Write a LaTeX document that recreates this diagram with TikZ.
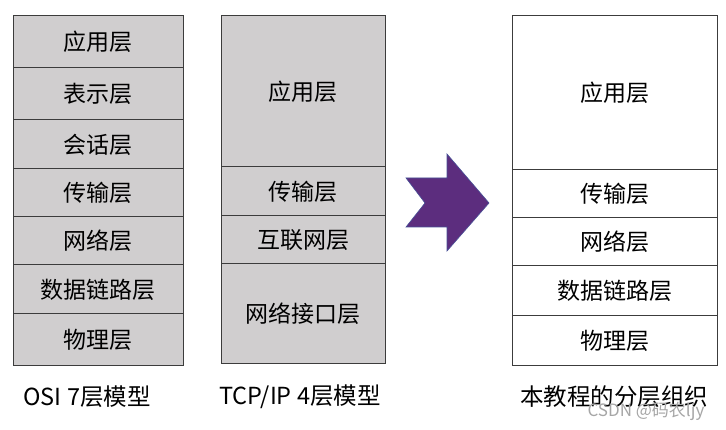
\documentclass[tikz,border=0pt]{standalone}
\usepackage{fontspec}
\setmainfont{Noto Sans CJK SC}
\usetikzlibrary{arrows.meta,calc}
\definecolor{layergray}{RGB}{208,206,207}
\definecolor{arrowpurple}{RGB}{92,45,126}
\definecolor{arrowedge}{RGB}{70,80,150}
\definecolor{boxline}{RGB}{60,60,60}
\tikzset{
    layer/.style={draw=boxline, line width=1pt, fill=layergray, inner sep=0pt, font=\fontsize{23}{26}\selectfont},
    mylayer/.style={layer, fill=white},
    caption/.style={font=\fontsize{23.5}{26}\selectfont}
}

\begin{document}
\begin{tikzpicture}[x=1pt, y=-1pt]
    \useasboundingbox (0,0) rectangle (726,430);
    % OSI
    \node[layer, minimum width=170pt, minimum height=52pt] (osiapp) at (98, 42) {应用层};
    \node[layer, minimum width=170pt, minimum height=52pt] (osipre) at (98, 94) {表示层};
    \node[layer, minimum width=170pt, minimum height=49pt] (osises) at (98, 144.5) {会话层};
    \node[layer, minimum width=170pt, minimum height=48pt] (ositra) at (98, 193) {传输层};
    \node[layer, minimum width=170pt, minimum height=48pt] (osinet) at (98, 241) {网络层};
    \node[layer, minimum width=170pt, minimum height=49pt] (osidat) at (98, 289.5) {数据链路层};
    \node[layer, minimum width=170pt, minimum height=52pt] (osiphy) at (98, 340) {物理层};
    
    % TCP/IP
    \node[layer, minimum width=164pt, minimum height=151pt] (tcpapp) at (303, 91.5) {应用层};
    \node[layer, minimum width=164pt, minimum height=49pt] (tcptra) at (303, 191.5) {传输层};
    \node[layer, minimum width=164pt, minimum height=48pt] (tcpint) at (303, 240) {互联网层};
    \node[layer, minimum width=164pt, minimum height=100pt] (tcplnk) at (303, 314) {网络接口层};
    
    % tutorial
    \node[mylayer, minimum width=205pt, minimum height=154pt] (myapp) at (614.5, 93) {应用层};
    \node[mylayer, minimum width=205pt, minimum height=48pt] (mytra) at (614.5, 194) {传输层};
    \node[mylayer, minimum width=205pt, minimum height=48pt] (mynet) at (614.5, 242) {网络层};
    \node[mylayer, minimum width=205pt, minimum height=50pt] (mydat) at (614.5, 291) {数据链路层};
    \node[mylayer, minimum width=205pt, minimum height=50pt] (myphy) at (614.5, 341) {物理层};
    
    % arrow
    \filldraw[fill=arrowpurple, draw=arrowedge, line width=0.6pt]
        (406,178) -- (447,178) -- (447,154) -- (489,203) -- (447,251)
        -- (447,227) -- (406,227) -- (425,203) -- cycle;
    
    \node[caption] (osicap) at (87, 397) {OSI 7层模型};
    \node[caption] (tcpcap) at (300, 397) {TCP/IP 4层模型};
    \node[caption] (mycap) at (614, 397) {本教程的分层组织};
    \node[font=\fontsize{17}{20}\selectfont, text=black!35] (mark) at (646, 411) {CSDN @码农ljy};
\end{tikzpicture}
\end{document}
